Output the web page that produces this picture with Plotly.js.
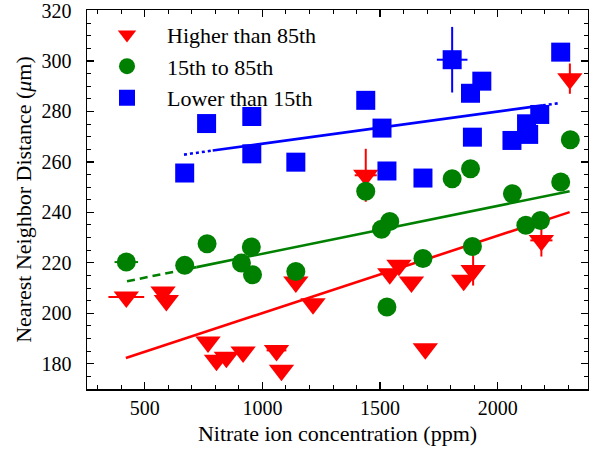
<!DOCTYPE html>
<html>
<head>
<meta charset="utf-8">
<script src="https://cdn.plot.ly/plotly-3.0.1.min.js"></script>
<style>
html,body{margin:0;padding:0;background:#fff;}
#chart{width:589px;height:457px;}
</style>
</head>
<body>
<div id="chart"></div>
<script>
// Higher than 85th (red)
const redX = [422, 578, 592, 769, 805, 847, 918, 1060, 1081, 1142, 1215, 1439, 1541, 1580, 1633, 1692, 1855, 1895, 2185, 2306];
const redY = [206.5, 208.4, 205.1, 188.6, 181.4, 182.6, 184.7, 185.3, 177.4, 212.4, 203.8, 254.7, 215.7, 219, 212.4, 186, 213.1, 217, 228.9, 293];
const redXErr = [76, 0, 0, 0, 0, 0, 0, 42, 0, 0, 0, 47, 0, 0, 0, 0, 0, 0, 47, 0];
const redYErr = [0, 0, 0, 0, 0, 0, 0, 0, 0, 0, 0, 10.5, 0, 0, 0, 0, 0, 6, 6.4, 6];
// 15th to 85th (green)
const greenX = [422, 670, 765, 911, 953, 958, 1142, 1439, 1506, 1541, 1529, 1682, 1806, 1884, 1892, 2062, 2119, 2181, 2267, 2308];
const greenY = [220.3, 219, 227.6, 219.9, 226.3, 215.3, 216.6, 248.4, 233.3, 236.4, 202.5, 221.7, 253.3, 257.3, 226.5, 247.4, 234.9, 236.8, 252, 268.8];
const greenXErr = [50, 0, 0, 0, 0, 0, 0, 0, 0, 0, 0, 0, 0, 0, 0, 0, 0, 0, 0, 0];
const greenYErr = [0, 0, 0, 0, 0, 0, 0, 0, 0, 0, 0, 0, 0, 0, 0, 0, 0, 0, 0, 2.5];
// Lower than 15th (blue)
const blueX = [670, 763, 955, 955, 1142, 1439, 1508, 1529, 1682, 1806, 1884, 1932, 1892, 2060, 2122, 2131, 2178, 2267];
const blueY = [255.6, 275.2, 278, 263.2, 259.9, 284.4, 273.4, 256.4, 253.6, 300.5, 287.2, 292, 269.8, 268.5, 275.1, 270.9, 278.8, 303.5];
const blueXErr = [0, 0, 0, 0, 0, 0, 0, 0, 0, 65, 0, 0, 0, 0, 0, 0, 0, 0];
const blueYErr = [0, 0, 0, 0, 0, 0, 0, 0, 0, 13, 0, 0, 0, 0, 0, 0, 0, 0];
// Fit lines
const redFitX = [420, 2305];
const redFitY = [182.3, 240.1];
const greenFitDashX = [425, 721];
const greenFitDashY = [212.7, 218.3];
const greenFitX = [721, 2305];
const greenFitY = [218.3, 248.4];
const blueFitDotX = [667, 789];
const blueFitDotY = [262.9, 264.5];
const blueFitX = [789, 2191];
const blueFitY = [264.5, 282.4];
const blueFitDot2X = [2191, 2263];
const blueFitDot2Y = [282.4, 283.3];
const names = ['Higher than 85th', '15th to 85th', 'Lower than 15th'];
const xTicks = [500, 1000, 1500, 2000];
const yTicks = [180, 200, 220, 240, 260, 280, 300, 320];

const RED = '#ff0000', GREEN = '#008000', BLUE = '#0000ff';
const FONT = 'Liberation Serif';

function fit(x, y, color, dash) {
  return {x: x, y: y, mode: 'lines', type: 'scatter', showlegend: false, hoverinfo: 'skip',
    line: {color: color, width: 2.6, dash: dash}};
}
function pts(x, y, xe, ye, color, symbol, size, name) {
  return {x: x, y: y, mode: 'markers', type: 'scatter', name: name,
    marker: {color: color, symbol: symbol, size: size, line: {width: 0}},
    error_x: {type: 'data', array: xe, visible: true, color: color, thickness: 2, width: 0},
    error_y: {type: 'data', array: ye, visible: true, color: color, thickness: 2, width: 0}};
}

const traces = [
  fit(redFitX, redFitY, RED, 'solid'),
  fit(greenFitDashX, greenFitDashY, GREEN, '8px,5px'),
  fit(greenFitX, greenFitY, GREEN, 'solid'),
  fit(blueFitDotX, blueFitDotY, BLUE, '3px,3px'),
  fit(blueFitX, blueFitY, BLUE, 'solid'),
  fit(blueFitDot2X, blueFitDot2Y, BLUE, '3px,3px'),
  pts(redX, redY, redXErr, redYErr, RED, 'triangle-down', 22, names[0]),
  pts(greenX, greenY, greenXErr, greenYErr, GREEN, 'circle', 19, names[1]),
  pts(blueX, blueY, blueXErr, blueYErr, BLUE, 'square', 19, names[2])
];

const axisCommon = {
  showline: true, linecolor: '#000', linewidth: 1.5, mirror: 'ticks',
  ticks: 'inside', ticklen: 7, tickwidth: 1.3, tickcolor: '#000',
  showgrid: false, zeroline: false, ticklabeloverflow: 'allow',
  tickfont: {family: FONT, size: 20, color: '#000'}
};

const layout = {
  width: 589, height: 457,
  margin: {l: 87, r: 1, t: 10, b: 68},
  paper_bgcolor: '#fff', plot_bgcolor: '#fff',
  font: {family: FONT, size: 20, color: '#000'},
  showlegend: true,
  legend: {x: 0.0, y: 0.99, xanchor: 'left', yanchor: 'top', bgcolor: 'rgba(0,0,0,0)',
    font: {family: FONT, size: 22, color: '#000'}, itemsizing: 'trace', itemwidth: 70},
  xaxis: Object.assign({}, axisCommon, {
    range: [255, 2383], tickvals: xTicks, ticktext: xTicks.map(String),
    minor: {dtick: 100, tick0: 0, ticks: 'inside', ticklen: 4, tickwidth: 1, tickcolor: '#000'},
    title: {text: 'Nitrate ion concentration (ppm)', font: {family: FONT, size: 22, color: '#000'}, standoff: 8}
  }),
  yaxis: Object.assign({}, axisCommon, {
    range: [170, 320.2], tickvals: yTicks, ticktext: yTicks.map(String), ticklabelstandoff: 10,
    minor: {dtick: 5, tick0: 0, ticks: 'inside', ticklen: 4, tickwidth: 1, tickcolor: '#000'},
    title: {text: 'Nearest Neighbor Distance (<i>μ</i>m)', font: {family: FONT, size: 22, color: '#000'}, standoff: 4}
  })
};

Plotly.newPlot('chart', traces, layout, {displayModeBar: false, staticPlot: true});
</script>
</body>
</html>
